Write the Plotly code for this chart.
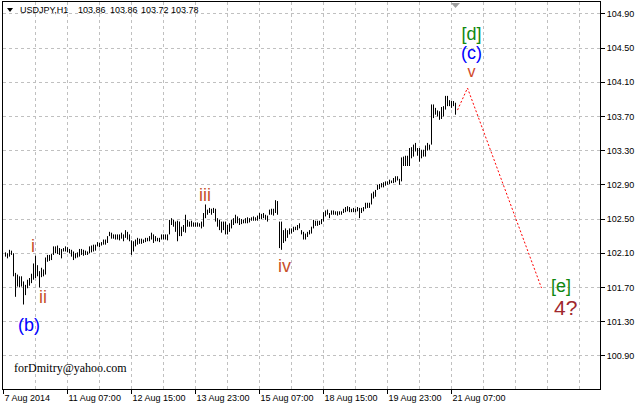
import plotly.graph_objects as go

# ---------------- data ----------------
symbol = "USDJPY,H1"
last_ohlc = [103.86, 103.86, 103.72, 103.78]

highs = [
    102.11, 102.10, 102.14, 102.13, 102.10, 101.87, 101.85, 101.83, 101.83, 101.77,
    101.73, 101.79, 101.81, 101.86, 101.98, 102.07, 101.96, 101.89, 101.93, 101.91,
    102.05, 102.08, 102.08, 102.09, 102.18, 102.18, 102.19, 102.16, 102.15, 102.16,
    102.18, 102.17, 102.15, 102.14, 102.12, 102.10, 102.11, 102.15, 102.15, 102.14,
    102.13, 102.12, 102.18, 102.19, 102.20, 102.20, 102.23, 102.22, 102.23, 102.26,
    102.26, 102.30, 102.35,
    102.34, 102.32, 102.32, 102.32, 102.32, 102.34, 102.32, 102.37, 102.35, 102.32,
    102.25, 102.24, 102.26, 102.28, 102.27, 102.27, 102.26, 102.28, 102.28, 102.30,
    102.34, 102.32, 102.30, 102.28, 102.28,
    102.32, 102.32, 102.32, 102.32, 102.49, 102.51, 102.49, 102.47, 102.48, 102.47,
    102.41, 102.43, 102.55, 102.49, 102.47, 102.48, 102.46, 102.46, 102.46, 102.45,
    102.47, 102.57, 102.67, 102.61, 102.63, 102.62, 102.63, 102.62, 102.51, 102.49,
    102.47, 102.47, 102.47, 102.43, 102.45, 102.49, 102.51, 102.55, 102.53, 102.51,
    102.50, 102.49, 102.51, 102.52, 102.51, 102.52, 102.53, 102.52, 102.54, 102.57,
    102.56, 102.57, 102.55, 102.54, 102.61, 102.62, 102.62, 102.72, 102.71, 102.47,
    102.47, 102.37, 102.39, 102.37, 102.39, 102.39, 102.41, 102.41, 102.43, 102.45,
    102.37, 102.35, 102.33, 102.35, 102.37, 102.41, 102.49, 102.48, 102.48, 102.48,
    102.50, 102.58, 102.60, 102.61, 102.57, 102.60, 102.60, 102.59, 102.59, 102.59,
    102.59, 102.62, 102.64, 102.65, 102.64, 102.62, 102.63, 102.62, 102.64, 102.63,
    102.63, 102.64, 102.69, 102.69, 102.69, 102.80, 102.82, 102.84, 102.90, 102.91,
    102.92, 102.93, 102.94, 102.94, 102.96, 102.95, 102.98, 103.00, 103.00, 102.97,
    103.22, 103.23, 103.24, 103.24, 103.33, 103.34, 103.37, 103.39, 103.33, 103.33,
    103.31, 103.31, 103.36, 103.39, 103.37, 103.84, 103.84, 103.80, 103.77, 103.76,
    103.81, 103.82, 103.94, 103.94, 103.89, 103.88, 103.88, 103.86,
]

lows = [
    102.06, 102.04, 102.06, 102.08, 101.83, 101.59, 101.71, 101.70, 101.71, 101.50,
    101.61, 101.69, 101.72, 101.75, 101.79, 101.81, 101.83, 101.70, 101.82, 101.83,
    101.85, 102.00, 102.01, 102.02, 102.08, 102.10, 102.09, 102.08, 102.04, 102.12,
    102.12, 102.11, 102.10, 102.06, 102.02, 102.04, 102.05, 102.06, 102.08, 102.07,
    102.08, 102.08, 102.10, 102.11, 102.12, 102.13, 102.18, 102.17, 102.19, 102.20,
    102.20, 102.22, 102.30,
    102.27, 102.27, 102.26, 102.26, 102.25, 102.27, 102.24, 102.28, 102.26, 102.24,
    102.08, 102.12, 102.18, 102.20, 102.21, 102.21, 102.22, 102.23, 102.24, 102.24,
    102.26, 102.22, 102.24, 102.24, 102.23,
    102.26, 102.26, 102.26, 102.25, 102.32, 102.43, 102.41, 102.35, 102.24, 102.30,
    102.30, 102.35, 102.34, 102.41, 102.41, 102.41, 102.41, 102.41, 102.41, 102.41,
    102.39, 102.41, 102.51, 102.55, 102.57, 102.55, 102.57, 102.47, 102.41, 102.37,
    102.34, 102.37, 102.32, 102.32, 102.35, 102.39, 102.43, 102.45, 102.45, 102.43,
    102.44, 102.45, 102.45, 102.45, 102.46, 102.48, 102.48, 102.48, 102.48, 102.50,
    102.50, 102.51, 102.49, 102.47, 102.55, 102.55, 102.54, 102.57, 102.55, 102.16,
    102.14, 102.22, 102.24, 102.28, 102.32, 102.33, 102.35, 102.37, 102.37, 102.39,
    102.32, 102.26, 102.26, 102.29, 102.32, 102.33, 102.39, 102.42, 102.42, 102.43,
    102.44, 102.47, 102.53, 102.55, 102.51, 102.55, 102.55, 102.55, 102.54, 102.55,
    102.55, 102.57, 102.58, 102.59, 102.58, 102.58, 102.58, 102.58, 102.59, 102.51,
    102.57, 102.59, 102.62, 102.63, 102.63, 102.67, 102.74, 102.76, 102.84, 102.85,
    102.87, 102.87, 102.89, 102.90, 102.91, 102.92, 102.92, 102.93, 102.95, 102.90,
    102.94, 103.12, 103.12, 103.12, 103.12, 103.21, 103.23, 103.29, 103.24, 103.17,
    103.21, 103.23, 103.23, 103.30, 103.31, 103.37, 103.68, 103.72, 103.70, 103.66,
    103.67, 103.70, 103.78, 103.82, 103.82, 103.80, 103.82, 103.72,
]

bar_index = list(range(1, len(highs) + 1))

tick_bars = [0, 32, 64, 96, 128, 160, 192, 224]
tick_labels = ["7 Aug 2014", "11 Aug 07:00", "12 Aug 15:00", "13 Aug 23:00",
               "15 Aug 07:00", "18 Aug 15:00", "19 Aug 23:00", "21 Aug 07:00"]

# single wave labels: text, bar position, price, wave degree
wave_text = ["(b)", "i", "ii", "iii", "iv", "[e]", "4?"]
wave_bar = [12.5, 14.5, 19.5, 100.5, 140.5, 278.85, 280.75]
wave_price = [101.26, 102.184, 101.588, 102.78, 101.95, 101.72, 101.47]
wave_degree = ["minor", "minute", "minute", "minute", "minute", "intermediate", "primary"]

# stacked label at the top: [d] / (c) / v
top_stack_text = ["[d]", "(c)", "v"]
top_stack_degree = ["intermediate", "minor", "minute_small"]
top_stack_bar = 233.85
top_stack_price = 104.451

forecast_bar = [227, 232, 269]
forecast_price = [103.774, 104.032, 101.693]

author = "forDmitry@yahoo.com"

# ---------------- styles ----------------
degree_style = {
    "minute": dict(color="#C8502A", size=18),
    "minute_small": dict(color="#D0482A", size=16),
    "minor": dict(color="#0000FF", size=18),
    "intermediate": dict(color="#108810", size=18),
    "primary": dict(color="#A0282E", size=21),
}
SANS = "Liberation Sans, Arial, sans-serif"
GRID = "#C0C0C0"

# ---------------- figure ----------------
seg_x, seg_y = [], []
for i, h, l in zip(bar_index, highs, lows):
    seg_x += [i, i, None]
    seg_y += [l, h, None]

fig = go.Figure()
fig.add_trace(go.Scatter(x=seg_x, y=seg_y, mode="lines",
                         line=dict(color="black", width=1),
                         hoverinfo="skip", showlegend=False))
fig.add_trace(go.Scatter(x=forecast_bar, y=forecast_price, mode="lines",
                         line=dict(color="red", width=1, dash="2px,2px"),
                         hoverinfo="skip", showlegend=False))

annotations = []
for t, xb, yp, d in zip(wave_text, wave_bar, wave_price, wave_degree):
    st = degree_style[d]
    annotations.append(dict(x=xb, y=yp, xref="x", yref="y", text=t, showarrow=False,
                            xanchor="center", yanchor="middle",
                            font=dict(family=SANS, size=st["size"], color=st["color"])))

stack_lines = [
    f"<span style='color:{degree_style[d]['color']};font-size:{degree_style[d]['size']}px'>{t}</span>"
    for t, d in zip(top_stack_text, top_stack_degree)
]
annotations.append(dict(x=top_stack_bar, y=top_stack_price, xref="x", yref="y",
                        text="<br>".join(stack_lines), showarrow=False,
                        xanchor="center", yanchor="middle", align="center",
                        font=dict(family=SANS, size=14.3, color="black")))

# header: symbol and last bar OHLC
header_px = [18, 76, 108, 139, 169]
header_items = [symbol] + [f"{v:.2f}" for v in last_ohlc]
for px, t in zip(header_px, header_items):
    annotations.append(dict(x=(px - 3) / 597, y=(389 - 10) / 387, xref="paper", yref="paper",
                            text=t, showarrow=False, xanchor="left", yanchor="middle",
                            font=dict(family=SANS, size=9, color="black")))

annotations.append(dict(x=(12 - 3) / 597, y=(389 - 368) / 387, xref="paper", yref="paper",
                        text=author, showarrow=False, xanchor="left", yanchor="middle",
                        font=dict(family="Liberation Serif, Times New Roman, serif",
                                  size=12, color="black")))

shapes = [
    # symbol menu triangle
    dict(type="path", xref="paper", yref="paper",
         path=f"M {(7-3)/597} {(389-8)/387} L {(13-3)/597} {(389-8)/387} L {(10-3)/597} {(389-12)/387} Z",
         fillcolor="black", line=dict(width=0)),
    # chart shift marker
    dict(type="path", xref="paper", yref="paper",
         path=f"M {(451-3)/597} {(389-3)/387} L {(460-3)/597} {(389-3)/387} L {(455.5-3)/597} {(389-8)/387} Z",
         fillcolor="#A0A0A0", line=dict(width=0)),
]

fig.update_layout(
    width=636, height=406,
    margin=dict(l=3, r=36, t=2, b=17, pad=0),
    paper_bgcolor="white", plot_bgcolor="white",
    showlegend=False,
    annotations=annotations,
    shapes=shapes,
    xaxis=dict(
        range=[-0.25, 298.25], fixedrange=True,
        tickmode="array", tickvals=tick_bars, ticktext=tick_labels,
        ticks="outside", ticklen=4, tickwidth=1, tickcolor="black",
        ticklabelposition="outside right",
        tickfont=dict(family=SANS, size=9, color="black"),
        showgrid=True, gridcolor=GRID, griddash="3px,3px", gridwidth=1,
        minor=dict(tickmode="linear", tick0=0, dtick=16, ticks="",
                   showgrid=True, gridcolor=GRID, griddash="3px,3px", gridwidth=1),
        showline=True, linecolor="black", linewidth=1, mirror=True,
        zeroline=False, automargin=False,
    ),
    yaxis=dict(
        range=[100.512, 105.038], fixedrange=True, side="right",
        tickmode="linear", tick0=100.9, dtick=0.4, tickformat=".2f",
        ticks="outside", ticklen=4, tickwidth=1, tickcolor="black",
        tickfont=dict(family=SANS, size=9, color="black"),
        showgrid=True, gridcolor=GRID, griddash="3px,3px", gridwidth=1,
        showline=True, linecolor="black", linewidth=1, mirror=True,
        zeroline=False, automargin=False,
    ),
)

fig.write_html("out.html", config={"displayModeBar": False, "staticPlot": True},
               post_script="document.body.style.margin='0';document.body.style.overflow='hidden';")
